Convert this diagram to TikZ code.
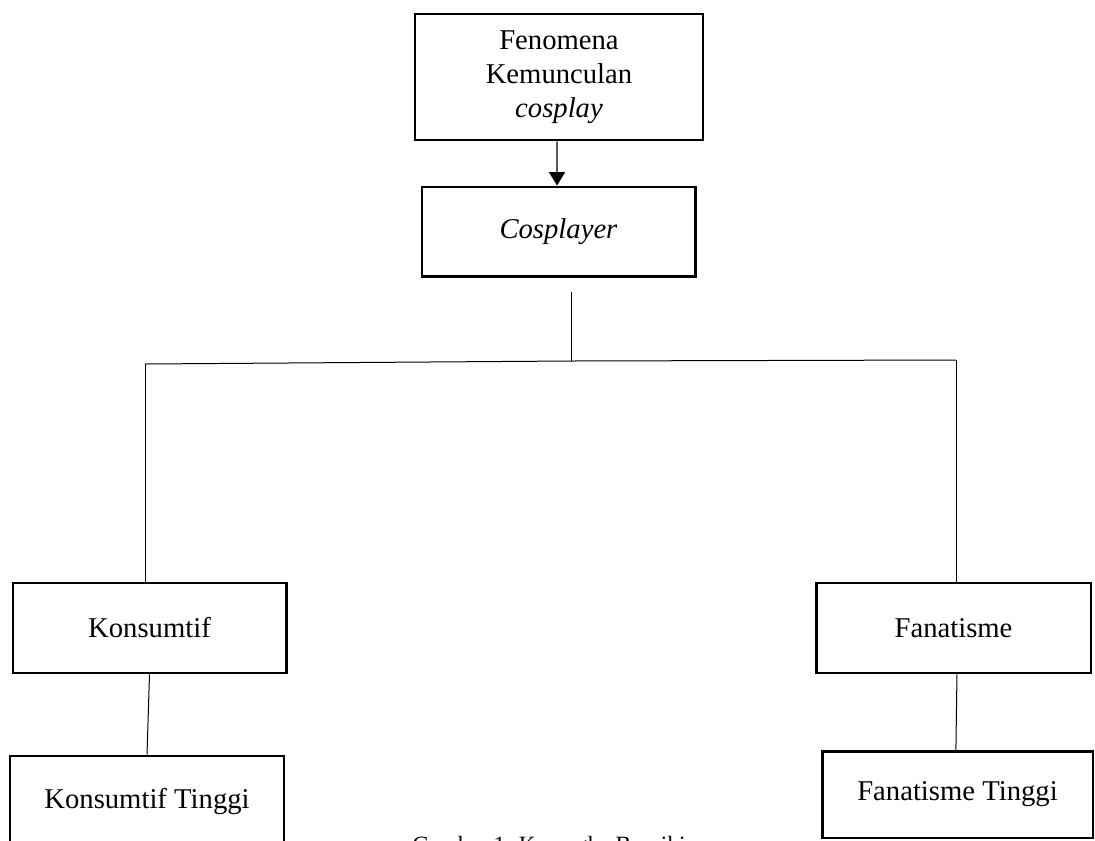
\documentclass[tikz,border=0pt]{standalone}
\usepackage{fontspec}
\setmainfont{Liberation Serif}
\usetikzlibrary{arrows.meta}
\begin{document}
\begin{tikzpicture}[x=0.75pt,y=-0.75pt,
  box/.style={draw=black,line width=2pt,rectangle,inner sep=0pt,align=center,
    font=\fontsize{21.5pt}{25.5pt}\selectfont},
  conn/.style={draw=black,line width=0.75pt},
  arr/.style={draw=black,line width=0.9pt,-{Triangle[width=12pt,length=10pt]}}]
\useasboundingbox (0,0) rectangle (1095,840);
\node[box,minimum width=216pt,minimum height=94.5pt] (top) at (559,77) {Fenomena\\Kemunculan\\\textit{cosplay}};
\node[box,minimum width=205pt,minimum height=67pt] (cos) at (558.5,231.5) {\textit{Cosplayer}};
\node[box,minimum width=205pt,minimum height=67.5pt] (kons) at (149.5,628) {Konsumtif};
\node[box,minimum width=206pt,minimum height=67.5pt] (fan) at (953.5,628) {Fanatisme};
\node[box,minimum width=205.5pt,minimum height=67.5pt] (kt) at (147,801) {Konsumtif Tinggi};
\node[box,minimum width=203pt,minimum height=65pt] (ft) at (957.5,794.5) {Fanatisme Tinggi};
\node[anchor=north,inner sep=0pt,font=\fontsize{17.5pt}{20pt}\selectfont] (cap) at (553,836.5) {Gambar 1. Kerangka Berpikir};
\coordinate (c1) at (571,292);
\coordinate (j) at (571,361);
\coordinate (l) at (145,364);
\coordinate (r) at (956,360);
\draw[arr] ([xshift=-1.5pt]top.south) -- ([xshift=-1.1pt]cos.north);
\draw[conn] (c1) -- (j);
\draw[conn] (l) -- (j) -- (r);
\draw[conn] (l) -- (l |- kons.north);
\draw[conn] (r) -- (r |- fan.north);
\draw[conn] (kons.south) -- (kt.north);
\draw[conn] ([xshift=2.6pt]fan.south) -- ([xshift=-1.2pt]ft.north);
\end{tikzpicture}
\end{document}
